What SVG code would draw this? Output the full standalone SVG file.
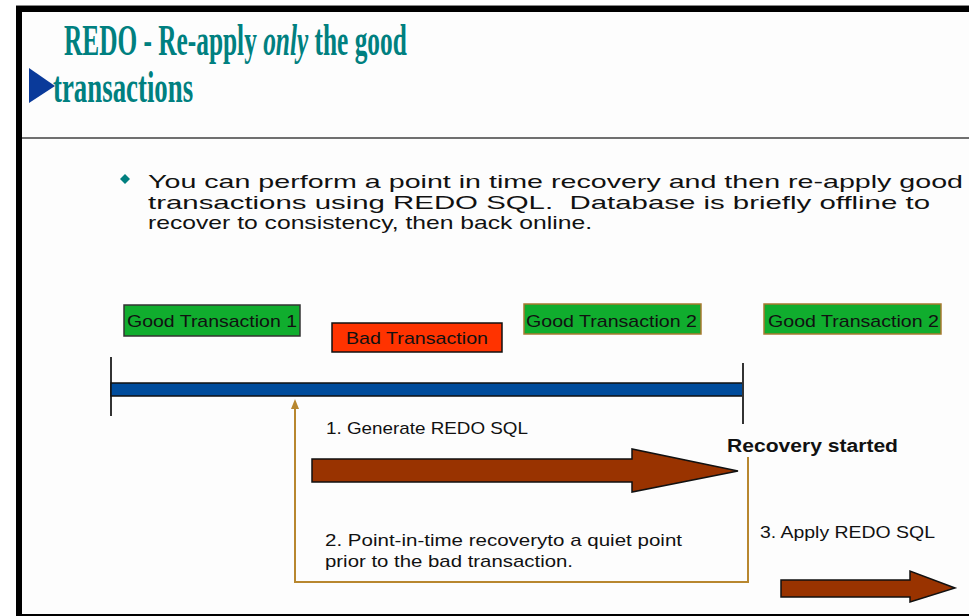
<svg xmlns="http://www.w3.org/2000/svg" width="969" height="616" viewBox="0 0 969 616">
<defs>
<style>
.title{font-family:"Liberation Serif","Times New Roman",serif;font-weight:bold;fill:#008080;font-size:44px}
.body{font-family:"Liberation Sans",Arial,sans-serif;fill:#111;font-size:19px}
.lbl{font-family:"Liberation Sans",Arial,sans-serif;fill:#111;font-size:17px}
.box-good{fill:#10ad2e}
.box-bad{fill:#ff3300;stroke:#111;stroke-width:1.5}
.tick{stroke:#333;stroke-width:2}
.gold{fill:none;stroke:#b8872f;stroke-width:2}
.bigarrow{fill:#993300;stroke:#111;stroke-width:1.5;stroke-linejoin:miter}
</style>
<marker id="goldHead" viewBox="0 0 10 8" refX="5" refY="4" markerWidth="10" markerHeight="8" markerUnits="userSpaceOnUse" orient="auto">
<path d="M0,0 L10,4 L0,8 Z" fill="#b8872f"/>
</marker>
</defs>
<rect x="0" y="0" width="969" height="616" fill="#ffffff"/>
<rect x="22" y="12" width="947" height="602" fill="#fdfdfd"/>
<!-- frame -->
<rect x="16" y="5" width="953" height="1" fill="#888"/>
<rect x="16" y="6" width="953" height="6" fill="#000"/>
<rect x="16" y="6" width="6" height="610" fill="#000"/>
<rect x="16" y="614" width="953" height="2" fill="#000"/>
<rect x="22" y="137" width="947" height="2" fill="#707070"/>

<g id="title">
<polygon points="29,68 55,86 29,103" fill="#0a3a9a"/>
<text class="title" transform="translate(64,55) scale(0.576,1)" x="0" y="0">REDO - Re-apply <tspan font-style="italic">only</tspan> the good</text>
<text class="title" transform="translate(53,102) scale(0.61,1)" x="0" y="0">transactions</text>
</g>

<g id="bullet">
<polygon points="125,174 130,179 125,184 120,179" fill="#007f7f"/>
<text class="body" x="148" y="188" textLength="815" lengthAdjust="spacingAndGlyphs">You can perform a point in time recovery and then re-apply good</text>
<text class="body" x="148" y="208.5" textLength="782" lengthAdjust="spacingAndGlyphs" xml:space="preserve">transactions using REDO SQL.  Database is briefly offline to</text>
<text class="body" x="148" y="229" textLength="444" lengthAdjust="spacingAndGlyphs">recover to consistency, then back online.</text>
</g>

<g id="good-transaction-1">
<rect class="box-good" x="124" y="305" width="176" height="31" stroke="#333" stroke-width="1.5"/>
<text class="lbl" x="127" y="327" textLength="170" lengthAdjust="spacingAndGlyphs">Good Transaction 1</text>
</g>
<g id="bad-transaction">
<rect class="box-bad" x="332" y="323" width="170" height="29"/>
<text class="lbl" x="346" y="344" textLength="142" lengthAdjust="spacingAndGlyphs">Bad Transaction</text>
</g>
<g id="good-transaction-2a">
<rect class="box-good" x="524" y="304" width="177" height="30" stroke="#a87a30" stroke-width="1.5"/>
<text class="lbl" x="526" y="327" textLength="171" lengthAdjust="spacingAndGlyphs">Good Transaction 2</text>
</g>
<g id="good-transaction-2b">
<rect class="box-good" x="764" y="304" width="177" height="30" stroke="#a87a30" stroke-width="1.5"/>
<text class="lbl" x="768" y="327" textLength="171" lengthAdjust="spacingAndGlyphs">Good Transaction 2</text>
</g>

<g id="timeline">
<line class="tick" x1="111" y1="357" x2="111" y2="416"/>
<rect x="111" y="383" width="632" height="13" fill="#004c9c" stroke="#111" stroke-width="1.5"/>
<line class="tick" x1="743" y1="363" x2="743" y2="424"/>
</g>

<g id="recovery-started">
<text x="727" y="452" font-family="Liberation Sans, Arial, sans-serif" font-weight="bold" font-size="18" fill="#111" textLength="171" lengthAdjust="spacingAndGlyphs">Recovery started</text>
</g>

<g id="step-labels">
<text class="lbl" x="326" y="434" textLength="202" lengthAdjust="spacingAndGlyphs">1. Generate REDO SQL</text>
<text class="lbl" x="325" y="546" textLength="357" lengthAdjust="spacingAndGlyphs">2. Point-in-time recoveryto a quiet point</text>
<text class="lbl" x="325" y="567" textLength="248" lengthAdjust="spacingAndGlyphs">prior to the bad transaction.</text>
<text class="lbl" x="760" y="538" textLength="175" lengthAdjust="spacingAndGlyphs">3. Apply REDO SQL</text>
</g>

<g id="connectors">
<path class="gold" d="M748,457 L748,582 L295,582 L295,404" marker-end="url(#goldHead)"/>
<polygon class="bigarrow" points="312,459 632,459 632,449 738,471 632,492 632,482 312,482"/>
<polygon class="bigarrow" points="781,580 910,580 910,571 955,588 910,602 910,597 781,597"/>
</g>
</svg>
